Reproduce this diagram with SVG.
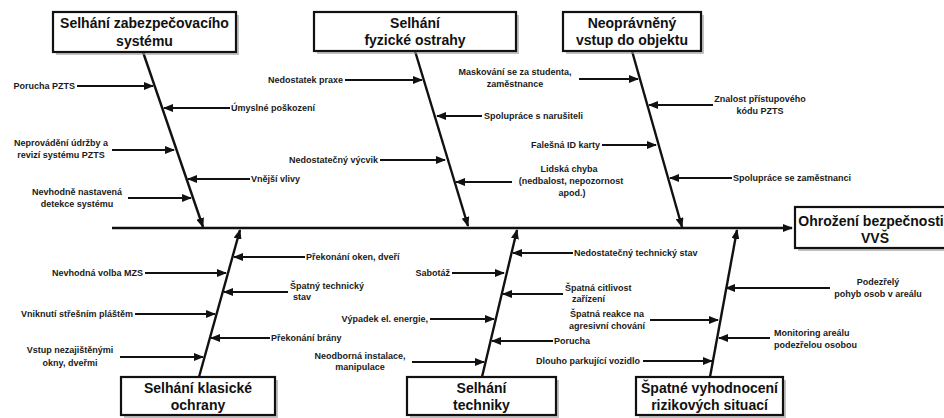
<svg xmlns="http://www.w3.org/2000/svg" width="944" height="418" viewBox="0 0 944 418">
<style>
.box{fill:#fff;stroke:#111;stroke-width:2.2}
.sh{fill:#9a9a9a;opacity:0.6}
.t{font-family:"Liberation Sans",Arial,sans-serif;font-weight:bold;font-size:14px;fill:#111;text-anchor:middle}
.l{font-family:"Liberation Sans",Arial,sans-serif;font-weight:bold;font-size:9px;fill:#1a1a1a}
.e{text-anchor:end}.m{text-anchor:middle}
.c line{stroke:#111;stroke-width:2;marker-end:url(#ah)}
.c line.b{stroke-width:2.4}
</style>
<defs>
<marker id="ah" viewBox="0 0 10 8" refX="9" refY="4" markerWidth="10" markerHeight="8" orient="auto" markerUnits="userSpaceOnUse"><path d="M0,0 L10,4 L0,8 z" fill="#111"/></marker>
</defs>
<rect width="944" height="418" fill="#fff"/>
<g id="connectors" class="c">
<line class="b" x1="112" y1="228" x2="792" y2="228"/>
<line class="b" x1="143" y1="52" x2="203" y2="227"/>
<line class="b" x1="415" y1="51" x2="468" y2="226"/>
<line class="b" x1="632" y1="51" x2="682" y2="227"/>
<line class="b" x1="199" y1="377" x2="240" y2="230"/>
<line class="b" x1="482" y1="377" x2="517" y2="230"/>
<line class="b" x1="710" y1="377" x2="737" y2="230"/>
<line x1="77" y1="86" x2="153" y2="86"/>
<line x1="230" y1="108" x2="164" y2="108"/>
<line x1="112" y1="150" x2="174" y2="150"/>
<line x1="250" y1="179" x2="188" y2="179"/>
<line x1="128" y1="198" x2="191" y2="198"/>
<line x1="345" y1="80" x2="422" y2="80"/>
<line x1="482" y1="116" x2="437" y2="116"/>
<line x1="380" y1="160" x2="445" y2="160"/>
<line x1="512" y1="182" x2="456" y2="182"/>
<line x1="579" y1="79" x2="638" y2="79"/>
<line x1="713" y1="105" x2="649" y2="105"/>
<line x1="602" y1="145" x2="656" y2="145"/>
<line x1="732" y1="178" x2="670" y2="178"/>
<line x1="305" y1="257" x2="234" y2="257"/>
<line x1="145" y1="273" x2="226" y2="273"/>
<line x1="288" y1="292" x2="224" y2="292"/>
<line x1="135" y1="314" x2="215" y2="314"/>
<line x1="270" y1="338" x2="211" y2="338"/>
<line x1="120" y1="357" x2="203" y2="357"/>
<line x1="573" y1="253" x2="513" y2="253"/>
<line x1="452" y1="273" x2="504" y2="273"/>
<line x1="563" y1="294" x2="503" y2="294"/>
<line x1="430" y1="319" x2="494" y2="319"/>
<line x1="650" y1="320" x2="718" y2="320"/>
<line x1="553" y1="341" x2="492" y2="341"/>
<line x1="412" y1="362" x2="484" y2="362"/>
<line x1="643" y1="361" x2="712" y2="361"/>
<line x1="830" y1="288" x2="726" y2="288"/>
<line x1="770" y1="338" x2="719" y2="338"/>
</g>
<g id="effect">
<rect class="sh" x="798" y="210" width="152" height="41"/>
<rect class="box" x="795" y="207" width="152" height="41"/>
<text class="t" x="871" y="226">Ohrožení bezpečnosti</text>
<text class="t" x="875" y="243">VVŠ</text>
</g>
<g id="cat1">
<rect class="sh" x="56" y="15" width="183" height="40"/>
<rect class="box" x="53" y="12" width="183" height="40"/>
<text class="t" x="144.5" y="28">Selhání zabezpečovacího</text>
<text class="t" x="144.5" y="46">systému</text>
</g>
<g id="cat2">
<rect class="sh" x="317" y="15" width="202" height="39"/>
<rect class="box" x="314" y="12" width="202" height="39"/>
<text class="t" x="415" y="28">Selhání</text>
<text class="t" x="415" y="45">fyzické ostrahy</text>
</g>
<g id="cat3">
<rect class="sh" x="566" y="15" width="138" height="39"/>
<rect class="box" x="563" y="12" width="138" height="39"/>
<text class="t" x="632" y="28">Neoprávněný</text>
<text class="t" x="632" y="45">vstup do objektu</text>
</g>
<g id="cat4">
<rect class="sh" x="124" y="380" width="154" height="38"/>
<rect class="box" x="121" y="377" width="154" height="38"/>
<text class="t" x="198" y="393">Selhání klasické</text>
<text class="t" x="198" y="410">ochrany</text>
</g>
<g id="cat5">
<rect class="sh" x="410" y="380" width="149" height="38"/>
<rect class="box" x="407" y="377" width="149" height="38"/>
<text class="t" x="481.5" y="393">Selhání</text>
<text class="t" x="481.5" y="410">techniky</text>
</g>
<g id="cat6">
<rect class="sh" x="639" y="380" width="147" height="38"/>
<rect class="box" x="636" y="377" width="147" height="38"/>
<text class="t" x="709.5" y="393">Špatné vyhodnocení</text>
<text class="t" x="709.5" y="410">rizikových situací</text>
</g>
<g id="causes1">
<text class="l e" x="75" y="89">Porucha PZTS</text>
<text class="l" x="231" y="111">Úmyslné poškození</text>
<text class="l m" x="61" y="146">Neprovádění údržby a</text>
<text class="l m" x="61" y="158">revizí systému PZTS</text>
<text class="l" x="251" y="182">Vnější vlivy</text>
<text class="l m" x="77" y="195">Nevhodně nastavená</text>
<text class="l m" x="77" y="207">detekce systému</text>
</g>
<g id="causes2">
<text class="l e" x="343" y="83">Nedostatek praxe</text>
<text class="l" x="484" y="119">Spolupráce s narušiteli</text>
<text class="l e" x="378" y="163">Nedostatečný výcvik</text>
<text class="l m" x="569" y="172">Lidská chyba</text>
<text class="l m" x="571" y="184">(nedbalost, nepozornost</text>
<text class="l m" x="572" y="196">apod.)</text>
</g>
<g id="causes3">
<text class="l m" x="515" y="75">Maskování se za studenta,</text>
<text class="l m" x="515" y="87">zaměstnance</text>
<text class="l m" x="760" y="102">Znalost přístupového</text>
<text class="l m" x="760" y="114">kódu PZTS</text>
<text class="l e" x="600" y="148">Falešná ID karty</text>
<text class="l" x="733" y="181">Spolupráce se zaměstnanci</text>
</g>
<g id="causes4">
<text class="l" x="306" y="260">Překonání oken, dveří</text>
<text class="l e" x="143" y="276">Nevhodná volba MZS</text>
<text class="l" x="290" y="289">Špatný technický</text>
<text class="l" x="293" y="300">stav</text>
<text class="l e" x="133" y="317">Vniknutí střešním pláštěm</text>
<text class="l" x="271" y="341">Překonání brány</text>
<text class="l m" x="70" y="353">Vstup nezajištěnými</text>
<text class="l m" x="70" y="366">okny, dveřmi</text>
</g>
<g id="causes5">
<text class="l" x="574" y="256">Nedostatečný technický stav</text>
<text class="l e" x="450" y="276">Sabotáž</text>
<text class="l" x="565" y="291">Špatná citlivost</text>
<text class="l" x="572" y="302">zařízení</text>
<text class="l e" x="428" y="322">Výpadek el. energie,</text>
<text class="l" x="554" y="344">Porucha</text>
<text class="l m" x="360" y="359">Neodborná instalace,</text>
<text class="l m" x="360" y="370">manipulace</text>
</g>
<g id="causes6">
<text class="l m" x="607" y="317">Špatná reakce na</text>
<text class="l m" x="607" y="329">agresivní chování</text>
<text class="l e" x="640" y="364">Dlouho parkující vozidlo</text>
<text class="l m" x="878" y="285">Podezřelý</text>
<text class="l m" x="878" y="297">pohyb osob v areálu</text>
<text class="l" x="774" y="336">Monitoring areálu</text>
<text class="l" x="774" y="348">podezřelou osobou</text>
</g>
</svg>
